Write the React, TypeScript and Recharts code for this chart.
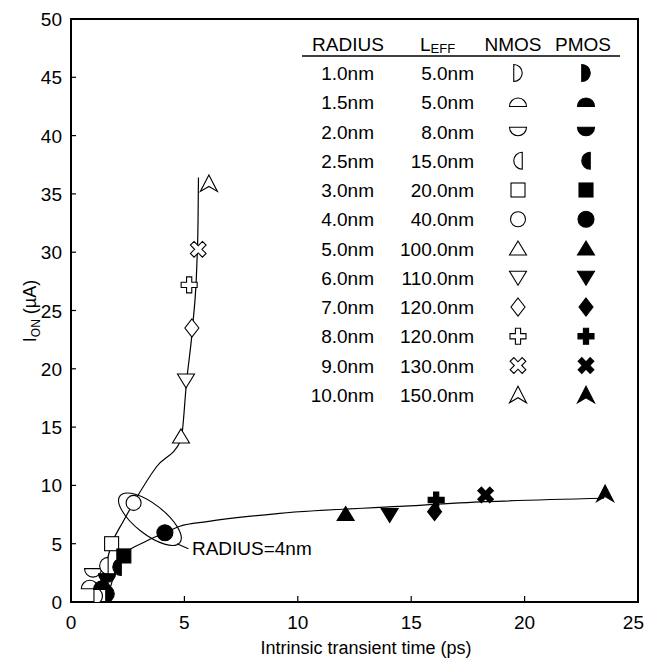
import React from "react"
import { ComposedChart, Line, Scatter, XAxis, YAxis, ReferenceArea, ReferenceDot } from "recharts"

// legend table rows
const RADIUS = ["1.0nm", "1.5nm", "2.0nm", "2.5nm", "3.0nm", "4.0nm", "5.0nm", "6.0nm", "7.0nm", "8.0nm", "9.0nm", "10.0nm"]
const LEFF = ["5.0nm", "5.0nm", "8.0nm", "15.0nm", "20.0nm", "40.0nm", "100.0nm", "110.0nm", "120.0nm", "120.0nm", "130.0nm", "150.0nm"]

// measured points, one per radius (ps, uA)
const NMOS_X = [1.2, 0.83, 0.97, 1.45, 1.79, 2.76, 4.85, 5.07, 5.33, 5.21, 5.61, 6.08]
const NMOS_Y = [0.5, 1.5, 2.5, 3.1, 5.0, 8.5, 14.2, 19.0, 23.5, 27.2, 30.25, 35.9]
const PMOS_X = [1.72, 1.37, 1.59, 2.03, 2.33, 4.14, 12.11, 14.05, 16.03, 16.1, 18.28, 23.55]
const PMOS_Y = [0.7, 1.45, 2.05, 3.0, 3.95, 5.94, 7.55, 7.46, 7.75, 8.75, 9.18, 9.3]

// hand-drawn trend curves
const NMOS_FIT_X = [1.05, 1.45, 1.8, 2.3, 2.76, 3.77, 4.85, 5.1, 5.38, 5.55, 5.6, 5.62]
const NMOS_FIT_Y = [0.3, 2.6, 5.0, 6.9, 8.5, 11.6, 13.9, 19.0, 24.0, 29.0, 32.5, 36.4]
const PMOS_FIT_X = [1.6, 1.95, 2.38, 3.2, 4.14, 4.8, 6.0, 9.2, 14.5, 18.3, 23.5]
const PMOS_FIT_Y = [0.3, 2.6, 4.1, 5.1, 5.94, 6.5, 6.9, 7.6, 8.2, 8.6, 8.9]

const X_TICKS = [0, 5, 10, 15, 20, 25]
const Y_TICKS = [0, 5, 10, 15, 20, 25, 30, 35, 40, 45, 50]

const ELLIPSE_AT = { x: 3.48, y: 7.1 }

const MARKERS = ["halfR", "halfU", "halfD", "halfL", "square", "circle", "triUp", "triDown", "diamond", "plus", "cross", "arrow"]

const FONT = "'Liberation Sans', Arial, sans-serif"
const FS = 18
const FS_BIG = 19

const nmosPts = NMOS_X.map((x, i) => ({ x, y: NMOS_Y[i], kind: MARKERS[i] }))
const pmosPts = PMOS_X.map((x, i) => ({ x, y: PMOS_Y[i], kind: MARKERS[i] }))
const nmosFit = NMOS_FIT_X.map((x, i) => ({ x, y: NMOS_FIT_Y[i] }))
const pmosFit = PMOS_FIT_X.map((x, i) => ({ x, y: PMOS_FIT_Y[i] }))

function plusPath(cx: number, cy: number, a: number, l: number, rot: number) {
  const pts = [
    [-a, -l], [a, -l], [a, -a], [l, -a], [l, a], [a, a],
    [a, l], [-a, l], [-a, a], [-l, a], [-l, -a], [-a, -a],
  ]
  const c = Math.cos(rot)
  const s = Math.sin(rot)
  return "M" + pts.map(([px, py]) => `${cx + px * c - py * s},${cy + px * s + py * c}`).join("L") + "Z"
}

function Marker({ kind, cx, cy, filled }: { kind: string; cx: number; cy: number; filled: boolean }) {
  const p = { fill: filled ? "#000" : "#fff", stroke: "#000", strokeWidth: 1.1 }
  const r = 8.5
  switch (kind) {
    case "halfR":
      return <path d={`M${cx - r / 2},${cy - r} A${r},${r} 0 0 1 ${cx - r / 2},${cy + r} Z`} {...p} />
    case "halfL":
      return <path d={`M${cx + r / 2},${cy + r} A${r},${r} 0 0 1 ${cx + r / 2},${cy - r} Z`} {...p} />
    case "halfU":
      return <path d={`M${cx - r},${cy + r / 2} A${r},${r} 0 0 1 ${cx + r},${cy + r / 2} Z`} {...p} />
    case "halfD":
      return <path d={`M${cx + r},${cy - r / 2} A${r},${r} 0 0 1 ${cx - r},${cy - r / 2} Z`} {...p} />
    case "square":
      return <rect x={cx - 7} y={cy - 7} width={14} height={14} {...p} />
    case "circle":
      return <circle cx={cx} cy={cy} r={filled ? 8 : 7.5} {...p} />
    case "triUp":
      return <path d={`M${cx},${cy - 7.5}L${cx + 8.5},${cy + 6.5}L${cx - 8.5},${cy + 6.5}Z`} {...p} />
    case "triDown":
      return <path d={`M${cx},${cy + 7.5}L${cx + 8.5},${cy - 6.5}L${cx - 8.5},${cy - 6.5}Z`} {...p} />
    case "diamond":
      return <path d={`M${cx},${cy - 9}L${cx + 7},${cy}L${cx},${cy + 9}L${cx - 7},${cy}Z`} {...p} />
    case "plus":
      return <path d={plusPath(cx, cy, 2.6, 8, 0)} {...p} />
    case "cross":
      return <path d={plusPath(cx, cy, 2.6, 8.5, Math.PI / 4)} {...p} />
    case "arrow":
      return <path d={`M${cx},${cy - 8.5}L${cx + 8.5},${cy + 8}L${cx},${cy + 3}L${cx - 8.5},${cy + 8}Z`} {...p} />
    default:
      return null
  }
}

const openShape = (props: any) => <Marker kind={props.payload.kind} cx={props.cx} cy={props.cy} filled={false} />
const filledShape = (props: any) => <Marker kind={props.payload.kind} cx={props.cx} cy={props.cy} filled={true} />

function XTick({ x, y, payload }: any) {
  // last label sits on the page edge, keep it inside
  const last = payload.value === X_TICKS[X_TICKS.length - 1]
  return (
    <g>
      <line x1={x} y1={y} x2={x} y2={y - 6} stroke="#000" strokeWidth={1.2} />
      <text
        x={last ? 644 : x}
        y={y + 27}
        textAnchor={last ? "end" : "middle"}
        fontFamily={FONT}
        fontSize={FS_BIG}
        fill="#000"
      >
        {payload.value}
      </text>
    </g>
  )
}

function YTick({ x, y, payload }: any) {
  return (
    <g>
      <line x1={x} y1={y} x2={x + 5} y2={y} stroke="#000" strokeWidth={1.2} />
      <text x={x - 9} y={y + 7} textAnchor="end" fontFamily={FONT} fontSize={FS_BIG} fill="#000">
        {payload.value}
      </text>
    </g>
  )
}

function EllipseNote({ cx, cy }: any) {
  return (
    <g>
      <ellipse cx={cx} cy={cy} rx={38} ry={15} transform={`rotate(38 ${cx} ${cy})`} fill="none" stroke="#000" strokeWidth={1.1} />
      <line x1={cx + 27} y1={cy + 24.5} x2={cx + 38.5} y2={cy + 29.5} stroke="#000" strokeWidth={1.1} />
      <text x={cx + 42} y={cy + 36} fontFamily={FONT} fontSize={FS_BIG} fill="#000">
        RADIUS=4nm
      </text>
    </g>
  )
}

function LegendTable() {
  const rowY = (i: number) => 73 + i * 29.25
  return (
    <svg width={645} height={662} style={{ position: "absolute", left: 0, top: 0, pointerEvents: "none" }}>
      <g fontFamily={FONT} fontSize={FS_BIG} fill="#000">
        <text x={348} y={51} textAnchor="middle">RADIUS</text>
        <text x={420} y={51}>
          L<tspan fontSize={13} dy={2}>EFF</tspan>
        </text>
        <text x={513} y={51} textAnchor="middle">NMOS</text>
        <text x={583} y={51} textAnchor="middle">PMOS</text>
        {RADIUS.map((r, i) => (
          <g key={r}>
            <text x={374} y={rowY(i) + 7} textAnchor="end">{r}</text>
            <text x={474} y={rowY(i) + 7} textAnchor="end">{LEFF[i]}</text>
            <Marker kind={MARKERS[i]} cx={518} cy={rowY(i)} filled={false} />
            <Marker kind={MARKERS[i]} cx={586} cy={rowY(i)} filled={true} />
          </g>
        ))}
      </g>
      <line x1={302} y1={56} x2={620} y2={56} stroke="#000" strokeWidth={1.5} />
      <text x={366} y={654} textAnchor="middle" fontFamily={FONT} fontSize={FS} fill="#000">
        Intrinsic transient time (ps)
      </text>
      <text transform="translate(36 311) rotate(-90)" textAnchor="middle" fontFamily={FONT} fontSize={FS} fill="#000">
        I<tspan fontSize={12} dy={4}>ON</tspan>
        <tspan dy={-4}> (µA)</tspan>
      </text>
    </svg>
  )
}

export default function App() {
  return (
    <div style={{ position: "absolute", left: 0, top: 0, width: 645, height: 662, background: "#fff" }}>
      <ComposedChart width={645} height={662} margin={{ top: 19, right: 7, bottom: 0, left: 0 }}>
        <XAxis
          type="number"
          dataKey="x"
          domain={[0, 25]}
          ticks={X_TICKS}
          interval={0}
          height={60}
          tickSize={0}
          tickMargin={0}
          tickLine={false}
          axisLine={{ stroke: "#000", strokeWidth: 2 }}
          tick={<XTick />}
          allowDataOverflow
        />
        <YAxis
          type="number"
          dataKey="y"
          domain={[0, 50]}
          ticks={Y_TICKS}
          interval={0}
          width={71}
          tickSize={0}
          tickMargin={0}
          tickLine={false}
          axisLine={{ stroke: "#000", strokeWidth: 2 }}
          tick={<YTick />}
          allowDataOverflow
        />
        <ReferenceArea x1={0} x2={25} y1={0} y2={50} fill="none" stroke="#000" strokeWidth={2} />
        <Line data={nmosFit} dataKey="y" type="monotone" stroke="#000" strokeWidth={1.2} dot={false} isAnimationActive={false} />
        <Line data={pmosFit} dataKey="y" type="monotone" stroke="#000" strokeWidth={1.2} dot={false} isAnimationActive={false} />
        <ReferenceDot x={ELLIPSE_AT.x} y={ELLIPSE_AT.y} r={1} shape={<EllipseNote />} />
        <Scatter data={nmosPts} shape={openShape} isAnimationActive={false} />
        <Scatter data={pmosPts} shape={filledShape} isAnimationActive={false} />
      </ComposedChart>
      <LegendTable />
    </div>
  )
}
